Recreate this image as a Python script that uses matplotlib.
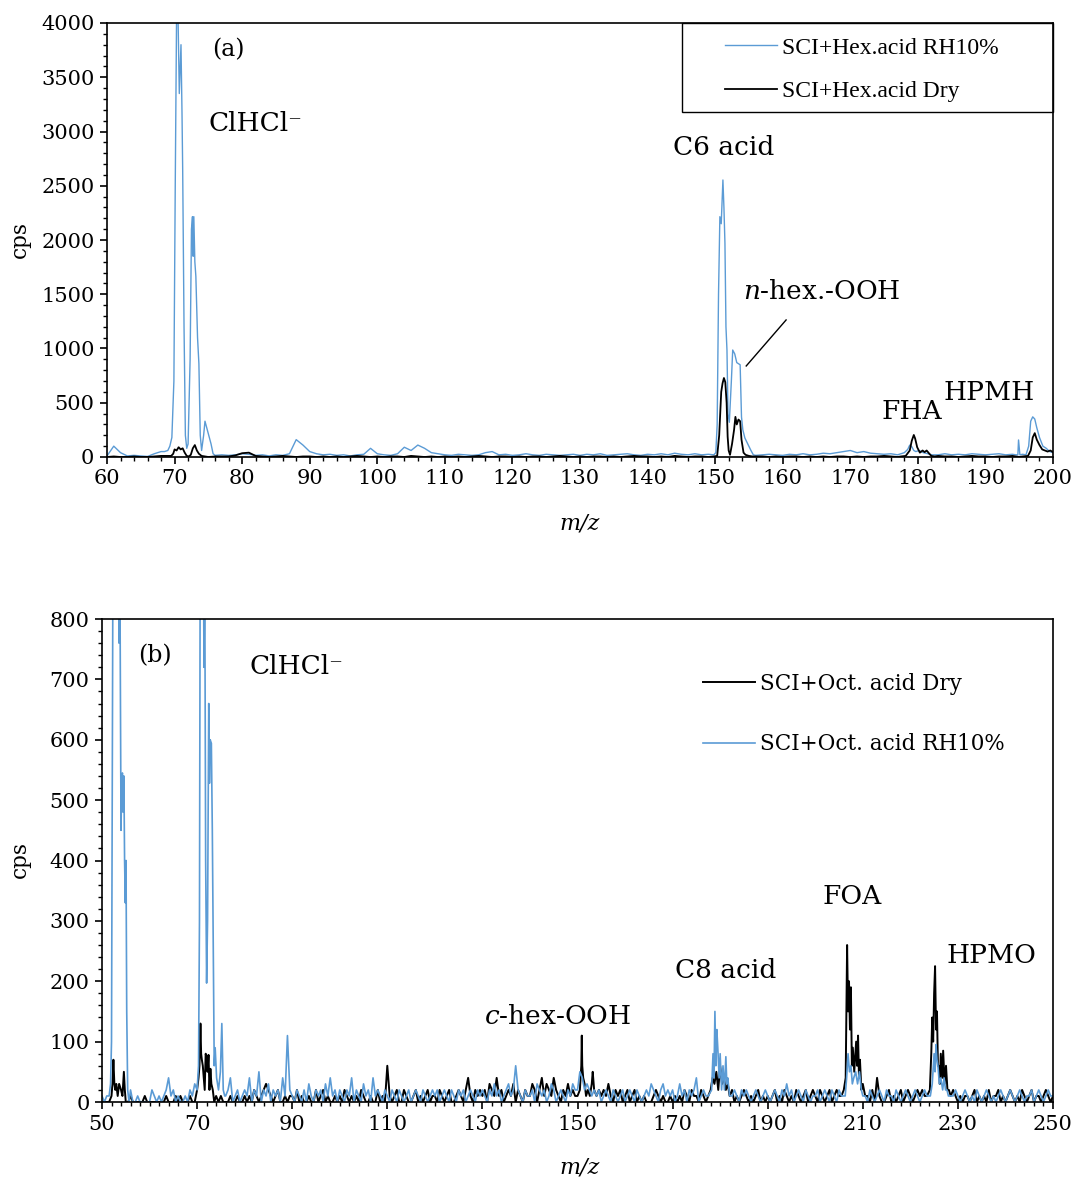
import numpy as np
import matplotlib
matplotlib.use("Agg")
import matplotlib.pyplot as plt
from matplotlib.ticker import MultipleLocator
from matplotlib.patches import Rectangle

plt.rcParams['font.family'] = ['DejaVu Serif']
plt.rcParams['mathtext.fontset'] = 'custom'
plt.rcParams['mathtext.it'] = 'DejaVu Serif:italic'
plt.rcParams['mathtext.rm'] = 'DejaVu Serif'

# ---------------- panel (a): SCI + hexanoic acid, m/z 60-200 ----------------
# baseline read every 1 m/z (from 60), peaks listed separately as (m/z, cps)
a_rh_base = [
    10, 100, 40, 10, 15, 10, 5, 30, 50, 60,
    0, 0, 0, 0, 0, 0, 15, 20, 15, 20,
    30, 25, 15, 20, 10, 20, 15, 30, 160, 110,
    50, 30, 20, 25, 15, 20, 10, 20, 25, 80,
    30, 20, 15, 30, 90, 60, 110, 80, 40, 30,
    20, 15, 25, 20, 15, 20, 40, 50, 20, 25,
    15, 20, 30, 20, 15, 25, 20, 15, 20, 25,
    15, 25, 20, 30, 15, 20, 25, 30, 20, 15,
    25, 20, 30, 20, 35, 25, 20, 30, 20, 25,
    0, 0, 0, 0, 0, 0, 15, 20, 25, 20,
    15, 25, 20, 30, 20, 25, 35, 30, 40, 50,
    60, 40, 50, 35, 30, 25, 30, 20, 40, 0,
    0, 0, 0, 20, 30, 20, 25, 20, 30, 25,
    20, 25, 30, 20, 25, 20, 0, 0, 0, 0,
    0,
]
a_rh_peaks = [
    ([68.5, 69.0, 69.3, 69.6, 69.9, 70.1, 70.3, 70.5, 70.7, 70.95, 71.1, 71.2, 71.4,
      71.6, 71.8, 72.0, 72.3, 72.5, 72.65, 72.75, 72.85, 73.0, 73.15, 73.25, 73.4,
      73.5, 73.6, 73.8, 74.0, 74.3, 74.5, 74.8, 75.1, 75.4, 75.7, 76.0],
     [50, 60, 100, 180, 700, 2500, 4100, 4100, 3350, 3800, 3170, 2650, 1200,
      200, 80, 120, 900, 2100, 2215, 1850, 2215, 1800, 1665, 1450, 1100,
      986, 860, 200, 60, 200, 330, 260, 190, 120, 30, 15]),
    ([149.8, 150.1, 150.3, 150.5, 150.7, 150.9, 151.15, 151.3, 151.45, 151.6, 151.75,
      151.9, 152.1, 152.4, 152.6, 152.9, 153.2, 153.45, 153.7, 153.9, 154.1, 154.4,
      154.9, 155.3, 155.65],
     [20, 40, 300, 1500, 2215, 2150, 2553, 2300, 1970, 1200, 986,
      400, 320, 700, 986, 950, 870, 860, 850, 370, 250, 175,
      110, 60, 20]),
    ([177.5, 178.0, 178.5, 178.8, 179.1, 179.4, 179.7, 180.2, 180.8, 181.5, 182.0, 182.5],
     [30, 40, 70, 110, 95, 60, 50, 60, 40, 30, 20, 20]),
    ([194.5, 194.8, 194.9, 195.1, 195.5, 196.0, 196.4, 196.7, 197.0, 197.3, 197.6,
      198.0, 198.5, 199.0, 199.5, 200.0],
     [20, 20, 157, 20, 25, 20, 100, 330, 370, 350, 270,
      180, 100, 80, 50, 40]),
]

a_dry_base = [
    0, 5, 0, 0, 5, 0, 0, 5, 10, 10,
    0, 0, 0, 0, 0, 0, 5, 5, 5, 15,
    35, 40, 10, 5, 0, 5, 10, 5, 0, 5,
    5, 0, 5, 0, 5, 0, 5, 10, 5, 0,
    5, 0, 5, 5, 0, 10, 5, 0, 5, 0,
    5, 0, 5, 0, 5, 10, 5, 0, 5, 5,
    0, 5, 0, 5, 5, 0, 5, 10, 5, 0,
    5, 0, 5, 5, 0, 5, 0, 5, 10, 5,
    5, 0, 5, 0, 10, 5, 0, 5, 5, 0,
    0, 0, 0, 0, 0, 0, 5, 5, 0, 5,
    0, 5, 5, 0, 5, 0, 5, 0, 5, 5,
    0, 5, 0, 5, 5, 10, 5, 0, 0, 0,
    0, 0, 0, 10, 5, 5, 0, 5, 10, 5,
    5, 0, 5, 5, 10, 0, 0, 0, 0, 0,
    0,
]
a_dry_peaks = [
    ([69.5, 69.8, 70.0, 70.3, 70.6, 70.9, 71.2, 71.5, 71.8, 72.1, 72.4, 72.7, 73.0,
      73.3, 73.6, 74.0, 74.5],
     [10, 30, 70, 60, 90, 70, 80, 40, 10, 5, 20, 80, 110, 60, 30, 10, 5]),
    ([149.8, 150.3, 150.6, 150.9, 151.1, 151.3, 151.5, 151.7, 151.85, 152.0, 152.2,
      152.5, 152.8, 153.0, 153.2, 153.45, 153.7, 153.9, 154.2, 154.5, 155.0, 155.5],
     [5, 10, 200, 600, 680, 728, 690, 500, 187, 60, 20,
      120, 250, 370, 300, 345, 330, 160, 40, 20, 10, 5]),
    ([177.5, 178.2, 178.8, 179.1, 179.4, 179.6, 179.9, 180.3, 180.7, 181.0, 181.3,
      181.7, 182.0, 182.5],
     [5, 10, 60, 150, 203, 170, 90, 40, 60, 45, 60, 30, 10, 5]),
    ([195.5, 196.3, 196.7, 197.0, 197.3, 197.6, 198.0, 198.4, 198.8, 199.2, 199.6, 200.0],
     [5, 10, 60, 180, 220, 160, 110, 70, 60, 50, 60, 45]),
]

# ---------------- panel (b): SCI + octanoic acid, m/z 50-250 ----------------
# baseline read every 0.5 m/z (from 50)
b_dry_base = [
    0, 0, 0, 0, 0, 0, 0, 0, 0, 0, 0, 0, 10, 0, 0, 0, 0, 0, 10, 0,
    0, 0, 0, 0, 0, 0, 0, 10, 0, 0, 0, 10, 0, 10, 0, 0, 0, 10, 0, 0,
    0, 0, 0, 0, 0, 0, 0, 0, 0, 0, 10, 0, 0, 0, 10, 0, 0, 10, 0, 0,
    10, 0, 10, 0, 20, 10, 0, 10, 20, 30, 20, 10, 0, 10, 20, 0, 0, 10, 0, 10,
    10, 0, 20, 0, 10, 0, 0, 10, 0, 0, 20, 0, 10, 20, 0, 10, 0, 0, 10, 0,
    10, 0, 20, 10, 0, 10, 0, 10, 0, 20, 10, 0, 0, 10, 0, 0, 20, 0, 10, 0,
    60, 10, 0, 10, 20, 0, 0, 20, 10, 0, 0, 10, 20, 0, 10, 0, 10, 20, 0, 10,
    10, 0, 20, 10, 0, 10, 20, 0, 0, 10, 20, 10, 0, 20, 40, 10, 0, 20, 10, 20,
    10, 20, 0, 30, 20, 10, 40, 10, 20, 0, 10, 20, 10, 30, 0, 20, 10, 0, 20, 10,
    10, 30, 20, 0, 20, 40, 10, 30, 20, 10, 40, 20, 10, 0, 20, 10, 30, 10, 20, 10,
    20, 10, 20, 10, 20, 10, 20, 10, 30, 20, 10, 20, 10, 30, 10, 0, 20, 10, 20, 0,
    10, 20, 0, 10, 20, 0, 10, 0, 10, 0, 0, 0, 10, 20, 10, 0, 10, 0, 0, 10,
    0, 10, 0, 10, 0, 20, 10, 0, 20, 10, 10, 0, 20, 10, 0, 10, 20, 10, 10, 20,
    10, 20, 10, 0, 10, 20, 0, 10, 0, 10, 20, 10, 0, 10, 0, 10, 20, 0, 10, 0,
    10, 0, 10, 20, 0, 10, 0, 20, 10, 0, 10, 0, 20, 10, 0, 10, 20, 0, 10, 20,
    10, 0, 20, 10, 0, 10, 20, 0, 10, 20, 10, 0, 20, 10, 20, 0, 20, 10, 20, 10,
    10, 0, 10, 0, 20, 0, 40, 10, 0, 0, 10, 20, 0, 10, 0, 10, 20, 0, 10, 20,
    10, 0, 10, 20, 10, 20, 10, 20, 10, 20, 10, 0, 10, 20, 0, 10, 0, 10, 20, 10,
    0, 10, 0, 10, 10, 0, 10, 20, 0, 10, 0, 10, 0, 20, 0, 10, 10, 20, 0, 10,
    0, 10, 20, 10, 0, 10, 0, 20, 10, 0, 10, 20, 0, 10, 10, 0, 10, 20, 10, 0,
    10,
]
b_dry_peaks = [
    ([51.5, 52.0, 52.2, 52.4, 52.6, 52.8, 53.0, 53.3, 53.6, 54.0, 54.3, 54.6, 54.8, 55.0, 55.5],
     [0, 10, 30, 70, 30, 20, 30, 10, 30, 20, 10, 50, 20, 0, 0]),
    ([70.0, 70.3, 70.5, 70.7, 70.85, 71.0, 71.2, 71.4, 71.6, 71.8, 72.0, 72.2, 72.4,
      72.6, 72.8, 73.0, 73.3, 73.6, 74.0, 74.5],
     [20, 40, 60, 130, 80, 70, 60, 40, 20, 80, 75, 50, 78, 20, 55, 30, 20, 0, 10, 0]),
    ([150.0, 150.5, 150.8, 150.9, 151.0, 151.2, 151.5, 151.8, 152.2, 152.6, 153.0,
      153.2, 153.5, 154.0],
     [10, 20, 60, 110, 60, 40, 30, 10, 20, 10, 30, 50, 20, 10]),
    ([177.5, 178.0, 178.4, 178.8, 179.2, 179.6, 180.0, 180.4, 180.8, 181.2, 181.6, 182.0],
     [10, 20, 40, 30, 50, 20, 60, 30, 40, 20, 30, 10]),
    ([205.5, 206.0, 206.4, 206.7, 206.9, 207.1, 207.3, 207.5, 207.7, 207.9, 208.2,
      208.6, 208.8, 209.0, 209.2, 209.4, 209.7, 210.0, 210.5],
     [10, 20, 40, 260, 150, 200, 120, 190, 60, 90, 50,
      100, 60, 110, 40, 70, 20, 30, 10]),
    ([223.5, 224.1, 224.4, 224.6, 224.8, 225.0, 225.2, 225.4, 225.6, 225.8, 226.0,
      226.2, 226.4, 226.7, 226.9, 227.2, 227.5, 227.8, 228.1, 228.5],
     [10, 20, 80, 140, 100, 180, 225, 120, 150, 60, 60,
      30, 80, 40, 85, 30, 60, 20, 20, 10]),
]

b_rh_base = [
    10, 0, 10, 10, 0, 0, 0, 0, 0, 0, 0, 0, 20, 0, 0, 10, 0, 0, 0, 0,
    0, 20, 10, 0, 10, 0, 10, 20, 40, 10, 20, 0, 10, 0, 0, 10, 0, 20, 10, 30,
    20, 20, 20, 20, 20, 20, 20, 20, 20, 20, 20, 20, 10, 20, 40, 0, 10, 20, 0, 10,
    20, 10, 40, 0, 20, 10, 50, 0, 20, 10, 30, 0, 20, 10, 20, 0, 40, 10, 110, 20,
    10, 0, 20, 10, 0, 20, 0, 30, 10, 0, 20, 10, 20, 0, 30, 10, 40, 10, 20, 0,
    20, 10, 0, 20, 10, 40, 0, 20, 10, 0, 30, 10, 20, 0, 40, 10, 20, 10, 0, 20,
    10, 0, 20, 10, 0, 20, 10, 0, 10, 20, 0, 10, 20, 10, 0, 20, 10, 0, 10, 20,
    10, 20, 0, 10, 20, 10, 0, 20, 10, 0, 20, 10, 20, 0, 10, 20, 10, 0, 20, 10,
    20, 10, 0, 20, 10, 30, 10, 20, 0, 10, 20, 30, 10, 20, 60, 20, 10, 0, 20, 10,
    10, 20, 0, 30, 20, 10, 20, 0, 10, 30, 20, 0, 10, 20, 10, 0, 20, 10, 30, 20,
    20, 50, 40, 20, 30, 20, 10, 20, 10, 20, 0, 10, 20, 10, 0, 20, 10, 0, 10, 20,
    0, 10, 20, 10, 0, 20, 10, 0, 10, 20, 10, 30, 20, 10, 0, 20, 30, 10, 20, 10,
    20, 0, 10, 30, 10, 20, 0, 20, 10, 20, 40, 0, 10, 20, 10, 0, 20, 10, 20, 20,
    20, 20, 20, 20, 30, 10, 20, 10, 0, 20, 10, 20, 10, 0, 10, 20, 10, 0, 10, 20,
    10, 0, 10, 20, 10, 0, 20, 10, 30, 10, 20, 0, 10, 20, 10, 0, 20, 10, 0, 10,
    10, 20, 0, 10, 20, 10, 0, 20, 10, 0, 20, 10, 0, 10, 20, 0, 10, 20, 10, 0,
    20, 10, 0, 20, 10, 0, 10, 20, 10, 0, 20, 10, 10, 0, 20, 10, 0, 10, 20, 10,
    0, 10, 20, 10, 0, 10, 20, 10, 0, 20, 10, 0, 20, 10, 0, 20, 10, 0, 10, 20,
    10, 0, 10, 20, 10, 0, 10, 0, 20, 10, 0, 10, 20, 10, 0, 10, 0, 10, 20, 10,
    0, 10, 20, 10, 0, 10, 20, 10, 0, 10, 10, 20, 0, 10, 20, 10, 0, 10, 20, 10,
    10,
]
b_rh_peaks = [
    ([51.5, 51.8, 52.0, 52.3, 52.5, 52.8, 53.1, 53.4, 53.6, 53.75, 53.9, 54.0, 54.15,
      54.3, 54.45, 54.6, 54.75, 54.9, 55.05, 55.2, 55.4, 55.7],
     [10, 30, 100, 900, 1200, 1000, 1000, 1000, 760, 900, 640, 450, 540,
      545, 480, 540, 400, 330, 400, 150, 20, 0]),
    ([70.0, 70.3, 70.5, 70.65, 71.0, 71.3, 71.45, 71.6, 71.8, 72.0, 72.2, 72.45,
      72.6, 72.75, 73.0, 73.2, 73.4, 73.6, 73.8, 74.1, 74.5, 74.9, 75.2, 75.5, 75.8],
     [20, 60, 300, 900, 1000, 950, 720, 900, 400, 197, 300, 660,
      528, 600, 594, 450, 246, 60, 90, 40, 20, 50, 130, 20, 10]),
    ([177.5, 178.2, 178.5, 178.7, 178.9, 179.1, 179.3, 179.5, 179.8, 180.0, 180.3,
      180.6, 180.9, 181.2, 181.4, 181.6, 182.0],
     [10, 20, 80, 40, 150, 60, 120, 90, 40, 80, 20,
      60, 20, 75, 30, 40, 10]),
    ([205.5, 206.3, 206.6, 206.9, 207.2, 207.5, 207.8, 208.1, 208.5, 208.9, 209.3,
      209.7, 210.0, 210.5],
     [10, 10, 40, 80, 50, 60, 30, 40, 50, 30, 50, 20, 10, 10]),
    ([223.5, 224.2, 224.6, 225.0, 225.2, 225.4, 225.6, 225.8, 226.1, 226.4, 226.8,
      227.1, 227.4, 227.7, 228.0, 228.5],
     [10, 10, 30, 80, 50, 95, 70, 60, 30, 40, 20, 40, 20, 20, 10, 10]),
]


def build(start, step, base, peaks):
    mz = start + step * np.arange(len(base))
    val = np.array(base, dtype=float)
    keep = np.ones(len(mz), dtype=bool)
    for pm, pv in peaks:
        keep &= (mz < pm[0]) | (mz > pm[-1])
    x = np.concatenate([mz[keep]] + [np.array(pm, float) for pm, pv in peaks])
    y = np.concatenate([val[keep]] + [np.array(pv, float) for pm, pv in peaks])
    order = np.argsort(x)
    return x[order], y[order]


BLUE = '#5B9BD5'
W, H = 1077, 1183
fig = plt.figure(figsize=(W / 100, H / 100), dpi=100)

ax1 = fig.add_axes([107 / W, 1 - 457 / H, (1053 - 107) / W, (457 - 23) / H])
ax2 = fig.add_axes([102 / W, 1 - 1102 / H, (1053 - 102) / W, (1102 - 619) / H])

x, y = build(60, 1.0, a_rh_base, a_rh_peaks)
ax1.plot(x, y, color=BLUE, lw=1.0, label='SCI+Hex.acid RH10%')
x, y = build(60, 1.0, a_dry_base, a_dry_peaks)
ax1.plot(x, y, color='black', lw=1.3, label='SCI+Hex.acid Dry')

x, y = build(50, 0.5, b_dry_base, b_dry_peaks)
ax2.plot(x, y, color='black', lw=1.4, label='SCI+Oct. acid Dry')
x, y = build(50, 0.5, b_rh_base, b_rh_peaks)
ax2.plot(x, y, color=BLUE, lw=1.2, label='SCI+Oct. acid RH10%')

ax1.set_xlim(60, 200)
ax1.set_ylim(0, 4000)
ax1.xaxis.set_major_locator(MultipleLocator(10))
ax1.xaxis.set_minor_locator(MultipleLocator(2))
ax1.yaxis.set_major_locator(MultipleLocator(500))
ax1.yaxis.set_minor_locator(MultipleLocator(100))

ax2.set_xlim(50, 250)
ax2.set_ylim(0, 800)
ax2.set_xticks(np.arange(50, 251, 20))
ax2.xaxis.set_minor_locator(MultipleLocator(2))
ax2.yaxis.set_major_locator(MultipleLocator(100))
ax2.yaxis.set_minor_locator(MultipleLocator(20))

for ax in (ax1, ax2):
    for s in ax.spines.values():
        s.set_linewidth(1.2)
    ax.tick_params(which='major', direction='out', length=5, width=1.2, labelsize=15, pad=4)
    ax.tick_params(which='minor', direction='out', length=3, width=1.0)

lab = dict(fontsize=19, ha='center', va='center')
ax1.text(77.9, 3751, '(a)', fontsize=17, ha='center', va='center')
ax1.text(82.0, 3078, 'ClHCl⁻', **lab)
ax1.text(151.2, 2848, 'C6 acid', **lab)
ax1.text(165.8, 1521, r'$\mathit{n}$-hex.-OOH', **lab)
ax1.plot([154.6, 160.5], [839, 1263], color='black', lw=1.0)
ax1.text(179.1, 415, 'FHA', **lab)
ax1.text(190.5, 599, 'HPMH', **lab)

ax2.text(61.1, 740, '(b)', fontsize=17, ha='center', va='center')
ax2.text(90.8, 722, 'ClHCl⁻', **lab)
ax2.text(145.7, 142, r'$\mathit{c}$-hex-OOH', **lab)
ax2.text(181.2, 217, 'C8 acid', **lab)
ax2.text(207.7, 341, 'FOA', **lab)
ax2.text(237.0, 242, 'HPMO', **lab)

# legends placed in figure pixels (frame for (a) drawn separately)
leg1 = ax1.legend(loc='upper left', bbox_to_anchor=(725 / W, 1 - 37 / H),
                  bbox_transform=fig.transFigure, frameon=False,
                  prop={'family': 'Liberation Serif', 'size': 17}, handlelength=2.2,
                  handletextpad=0.22, labelspacing=0.95, borderaxespad=0.0, borderpad=0.0)
fig.add_artist(Rectangle((682 / W, 1 - 112 / H), (1053 - 682) / W, (112 - 23) / H,
                         transform=fig.transFigure, fill=False, edgecolor='black', lw=1.0))

leg2 = ax2.legend(loc='upper left', bbox_to_anchor=(703 / W, 1 - 673 / H),
                  bbox_transform=fig.transFigure, frameon=False,
                  prop={'family': 'DejaVu Serif', 'size': 15.5}, handlelength=2.4,
                  handletextpad=0.25, labelspacing=1.78, borderaxespad=0.0, borderpad=0.0)

fig.text(20 / W, 1 - 240 / H, 'cps', rotation=90, fontsize=15.5, ha='center', va='center')
fig.text(20 / W, 1 - 860 / H, 'cps', rotation=90, fontsize=15.5, ha='center', va='center')
fig.text(580 / W, 1 - 524 / H, 'm/z', style='italic', fontsize=16, ha='center', va='center')
fig.text(580 / W, 1 - 1168 / H, 'm/z', style='italic', fontsize=16, ha='center', va='center')

fig.savefig('out.png', dpi=100)
